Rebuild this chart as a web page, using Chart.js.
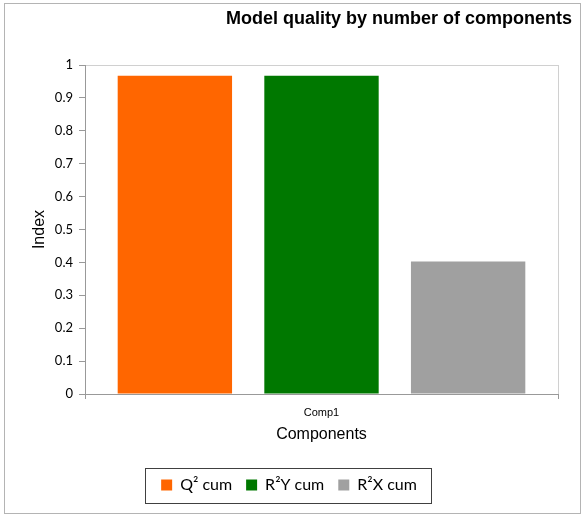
<!DOCTYPE html>
<html>
<head>
<meta charset="utf-8">
<script src="https://cdn.jsdelivr.net/npm/chart.js@4/dist/chart.umd.min.js"></script>
<style>
  html, body { margin: 0; padding: 0; background: #fff; }
  #wrap { width: 586px; height: 518px; }
</style>
</head>
<body>
<div id="wrap"><canvas id="qualityChart"></canvas></div>
<script>
  // chart data
  const categories = ['Comp1'];
  const seriesNames = ['Q\u00b2 cum', 'R\u00b2Y cum', 'R\u00b2X cum'];
  const seriesColors = ['#ff6600', '#007800', '#a0a0a0'];
  const q2cum = [0.967];
  const r2ycum = [0.967];
  const r2xcum = [0.403];
  const yTicks = [0, 0.1, 0.2, 0.3, 0.4, 0.5, 0.6, 0.7, 0.8, 0.9, 1];

  const chartTitle = 'Model quality by number of components';

  // outer frame, plot frame, title and legend box
  const decorations = {
    id: 'decorations',
    beforeDraw(chart) {
      const ctx = chart.ctx;
      const a = chart.chartArea;
      ctx.save();
      ctx.strokeStyle = '#b4b4b4';
      ctx.lineWidth = 1;
      ctx.strokeRect(4.5, 3.5, 576, 510);
      ctx.strokeStyle = '#d0d0d0';
      ctx.strokeRect(a.left + 0.5, a.top + 0.5, a.right - a.left, a.bottom - a.top);
      ctx.restore();
    },
    afterDraw(chart) {
      const ctx = chart.ctx;
      ctx.save();
      ctx.fillStyle = '#000';
      ctx.font = 'bold 18px "Liberation Sans", Arial, sans-serif';
      ctx.textAlign = 'right';
      ctx.textBaseline = 'middle';
      ctx.fillText(chartTitle, 572, 19);

      const boxes = chart.legend.legendHitBoxes;
      if (boxes.length) {
        const left = Math.min(...boxes.map(b => b.left));
        const right = Math.max(...boxes.map(b => b.left + b.width));
        const mid = boxes[0].top + boxes[0].height / 2;
        ctx.strokeStyle = '#404040';
        ctx.strokeRect(Math.round(left - 16) + 0.5, Math.round(mid - 17) + 0.5,
          Math.round(right - left + 30), 35);
      }
      ctx.restore();
    }
  };

  const ctx = document.getElementById('qualityChart').getContext('2d');

  new Chart(ctx, {
    type: 'bar',
    data: {
      labels: categories,
      datasets: [
        { label: seriesNames[0], data: q2cum, backgroundColor: seriesColors[0] },
        { label: seriesNames[1], data: r2ycum, backgroundColor: seriesColors[1] },
        { label: seriesNames[2], data: r2xcum, backgroundColor: seriesColors[2] }
      ]
    },
    options: {
      responsive: true,
      maintainAspectRatio: false,
      animation: false,
      categoryPercentage: 0.93,
      barPercentage: 0.78,
      layout: { padding: { top: 65, left: 20, right: 28, bottom: 15 } },
      scales: {
        x: {
          grid: { display: true, drawOnChartArea: false, offset: true, tickLength: 5, color: '#999' },
          border: { color: '#999' },
          ticks: { color: '#000', font: { family: '"Liberation Sans", Arial', size: 11 }, padding: 7 },
          title: {
            display: true, text: 'Components', color: '#000',
            font: { family: '"Liberation Sans", Arial', size: 16 }, padding: { top: 2, bottom: 19 }
          },
          afterFit(scale) { scale.height = 69; }
        },
        y: {
          min: 0, max: 1,
          afterBuildTicks(scale) { scale.ticks = yTicks.map(v => ({ value: v })); },
          grid: { drawOnChartArea: false, tickLength: 6, color: '#999' },
          border: { color: '#999' },
          ticks: {
            color: '#000', font: { family: 'Lato', size: 13 }, padding: 6,
            callback: v => String(v)
          },
          title: {
            display: true, text: 'Index', color: '#000',
            font: { family: '"Liberation Sans", Arial', size: 16 }, padding: 10
          },
          afterFit(scale) { scale.width = 65; }
        }
      },
      plugins: {
        title: { display: false },
        tooltip: { enabled: false },
        legend: {
          position: 'bottom',
          labels: {
            color: '#000',
            font: { family: 'Lato', size: 16 },
            boxWidth: 11, boxHeight: 11, padding: 14
          }
        }
      }
    },
    plugins: [decorations]
  });
</script>
</body>
</html>
